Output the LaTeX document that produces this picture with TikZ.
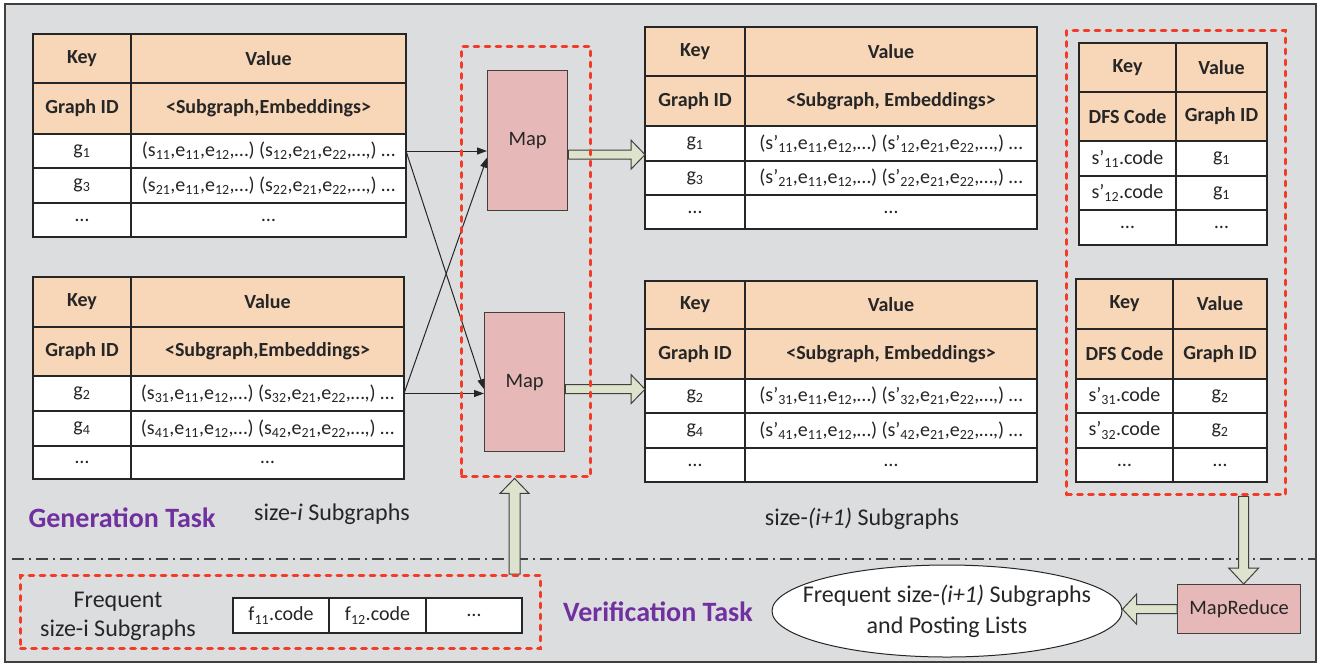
\documentclass[tikz,border=0pt]{standalone}
\usepackage{fontspec}
\setmainfont{Carlito}
\usetikzlibrary{arrows.meta,calc,shapes.geometric}

\definecolor{panel}{RGB}{220,221,223}
\definecolor{peach}{RGB}{248,214,184}
\definecolor{rose}{RGB}{230,184,183}
\definecolor{sage}{RGB}{221,227,204}
\definecolor{redline}{RGB}{242,60,40}
\definecolor{ink}{RGB}{38,38,38}
\definecolor{framegray}{RGB}{64,64,64}
\definecolor{taskpurple}{RGB}{112,48,160}

\pgfdeclarelayer{front}
\pgfsetlayers{main,front}

\newcommand\sub[1]{\textsubscript{#1}}

% one table cell: name, x0, y0, x1, y1, style, text
\newcommand\cell[7]{%
  \node[#6, anchor=north west, minimum width={(#4-#2)*1pt},
        minimum height={(#5-#3)*1pt}] (#1) at (#2,#3) {#7};}

\def\getcols#1/#2/#3\relax{\def\xa{#1}\def\xb{#2}\def\xc{#3}}
\def\getrows#1/#2/#3/#4/#5/#6\relax{%
  \def\ya{#1}\def\yb{#2}\def\yc{#3}\def\yd{#4}\def\ye{#5}\def\yf{#6}}

% key/value table: name, columns, rows, key type, value type,
% first key, first value, second key, second value
\newcommand\kvtab[9]{%
  \getcols#2\relax \getrows#3\relax
  \cell{#1-k0}{\xa}{\ya}{\xb}{\yb}{headcell}{Key}
  \cell{#1-v0}{\xb}{\ya}{\xc}{\yb}{headcell}{Value}
  \cell{#1-k1}{\xa}{\yb}{\xb}{\yc}{headcell}{#4}
  \cell{#1-v1}{\xb}{\yb}{\xc}{\yc}{headcell}{#5}
  \cell{#1-k2}{\xa}{\yc}{\xb}{\yd}{bodycell}{#6}
  \cell{#1-v2}{\xb}{\yc}{\xc}{\yd}{bodycell}{#7}
  \cell{#1-k3}{\xa}{\yd}{\xb}{\ye}{bodycell}{#8}
  \cell{#1-v3}{\xb}{\yd}{\xc}{\ye}{bodycell}{#9}
  \cell{#1-k4}{\xa}{\ye}{\xb}{\yf}{bodycell}{…}
  \cell{#1-v4}{\xb}{\ye}{\xc}{\yf}{bodycell}{…}}

% hollow block arrow: start, tip, shaft half-width, head half-width, head length
\newcommand\blockarrow[5]{%
  \coordinate (ba-base) at ($(#2)!#5!(#1)$);
  \draw[blockarrowstyle] ($(#1)!#3!90:(#2)$) -- ($(ba-base)!#3!90:(#2)$)
    -- ($(ba-base)!#4!90:(#2)$) -- (#2) -- ($(ba-base)!#4!-90:(#2)$)
    -- ($(ba-base)!#3!-90:(#2)$) -- ($(#1)!#3!-90:(#2)$) -- cycle;}

\tikzset{
  cellbase/.style={draw=ink, line width=1.3pt, inner sep=0pt, outer sep=0pt,
    text=ink},
  headcell/.style={cellbase, fill=peach, font=\fontsize{20}{24}\selectfont\bfseries},
  bodycell/.style={cellbase, fill=white, font=\fontsize{20}{24}\selectfont},
  mapbox/.style={draw=framegray, line width=1.3pt, fill=rose, text=ink,
    inner sep=0pt, anchor=north west, font=\fontsize{20.5}{24}\selectfont},
  reddash/.style={draw=redline, line width=3.4pt, line cap=round,
    dash pattern=on 4.5pt off 6.5pt, inner sep=0pt, anchor=north west},
  blockarrowstyle/.style={draw=framegray, line width=1pt, fill=sage,
    line join=miter},
  thinarrow/.style={draw=ink, line width=1pt,
    -{Triangle[length=10pt,width=7pt]}},
  label/.style={text=ink, font=\fontsize{24}{29}\selectfont, align=center},
  tasklabel/.style={text=taskpurple, font=\fontsize{28}{32}\selectfont\bfseries},
}

\begin{document}
\begin{tikzpicture}[x=1pt, y=-1pt]
\useasboundingbox (0,0) rectangle (1324,665);

% panel
\draw[fill=panel, draw=framegray, line width=1.5pt] (5,4) rectangle (1316,662);

% separator between generation and verification
\draw[framegray, line width=1.3pt, dash pattern=on 12pt off 5pt on 2pt off 5pt]
  (12,559) -- (1316,559);

% size-i tables
\kvtab{t1}{33/131/406}{34/83/134/168/203/237}{Graph ID}{<Subgraph,Embeddings>}
  {g\sub{1}}{(s\sub{11},e\sub{11},e\sub{12},…) (s\sub{12},e\sub{21},e\sub{22},…,) …}
  {g\sub{3}}{(s\sub{21},e\sub{11},e\sub{12},…) (s\sub{22},e\sub{21},e\sub{22},…,) …}
\kvtab{t2}{33/131/404}{277/327/376/411/446/479}{Graph ID}{<Subgraph,Embeddings>}
  {g\sub{2}}{(s\sub{31},e\sub{11},e\sub{12},…) (s\sub{32},e\sub{21},e\sub{22},…,) …}
  {g\sub{4}}{(s\sub{41},e\sub{11},e\sub{12},…) (s\sub{42},e\sub{21},e\sub{22},…,) …}

% size-(i+1) tables
\kvtab{t3}{645/745/1037}{27/76/126/161/195/229}{Graph ID}{<Subgraph, Embeddings>}
  {g\sub{1}}{(s’\sub{11},e\sub{11},e\sub{12},…) (s’\sub{12},e\sub{21},e\sub{22},…,) …}
  {g\sub{3}}{(s’\sub{21},e\sub{11},e\sub{12},…) (s’\sub{22},e\sub{21},e\sub{22},…,) …}
\kvtab{t4}{645/745/1037}{281/329/379/413/448/482}{Graph ID}{<Subgraph, Embeddings>}
  {g\sub{2}}{(s’\sub{31},e\sub{11},e\sub{12},…) (s’\sub{32},e\sub{21},e\sub{22},…,) …}
  {g\sub{4}}{(s’\sub{41},e\sub{11},e\sub{12},…) (s’\sub{42},e\sub{21},e\sub{22},…,) …}

% DFS code tables
\kvtab{t5}{1079/1176/1267}{43/92/141/176/210/245}{DFS Code}{Graph ID}
  {s’\sub{11}.code}{g\sub{1}}{s’\sub{12}.code}{g\sub{1}}
\kvtab{t6}{1076/1173/1267}{279/329/379/413/448/482}{DFS Code}{Graph ID}
  {s’\sub{31}.code}{g\sub{2}}{s’\sub{32}.code}{g\sub{2}}

% map tasks
\node[mapbox, minimum width=80pt, minimum height=140pt] (map1) at (487,70) {Map};
\node[mapbox, minimum width=80pt, minimum height=139pt] (map2) at (484,312) {Map};
\node[mapbox, minimum width=123pt, minimum height=49pt] (mapreduce) at (1177,584) {MapReduce};

% frequent size-i subgraph list
\cell{f1}{233}{598}{329}{633}{bodycell}{f\sub{11}.code}
\cell{f2}{329}{598}{426}{633}{bodycell}{f\sub{12}.code}
\cell{f3}{426}{598}{522}{633}{bodycell}{…}
\node[label] (freqlabel) at (118,616) {Frequent\\size-i Subgraphs};

% result of verification (negative inner sep keeps the ellipse at its minimum size)
\node[ellipse, draw=ink, fill=white, line width=1pt, minimum width=350pt,
  minimum height=92pt, inner xsep=-30pt, inner ysep=-10pt, align=center, text=ink,
  font=\fontsize{24}{31}\selectfont] (result) at (947,611)
  {Frequent size-\textit{(i+1)} Subgraphs\\and Posting Lists};

% captions
\node[tasklabel] (gentask) at (122,518) {Generation Task};
\node[tasklabel] (vertask) at (658,612) {Verification Task};
\node[label] (sizei) at (332,514) {size-\textit{i} Subgraphs};
\node[label] (sizeii) at (862,519) {size-\textit{(i+1)} Subgraphs};

% dashed groups (node names used by the arrows below)
\begin{pgfonlayer}{front}
\node[reddash, minimum width=129pt, minimum height=430pt] (mapgroup) at (460,45) {};
\node[reddash, minimum width=219pt, minimum height=464pt] (dfsgroup) at (1065,29) {};
\node[reddash, minimum width=520pt, minimum height=73pt] (freqgroup) at (19,574) {};
\end{pgfonlayer}

% records sent to the map tasks
\draw[thinarrow] (t1-v2.east) -- (t1-v2.east -| map1.west);
\draw[thinarrow] (t1-v2.east) -- ($(map2.north west)!0.55!(map2.south west)$);
\draw[thinarrow] (t2-v2.east) -- (t2-v2.east -| map2.west);
\draw[thinarrow] (t2-v2.east) -- ($(map1.north west)!0.62!(map1.south west)$);

% map outputs
\coordinate (a1s) at ($(map1.east)+(0,14)$);
\coordinate (a1e) at (a1s -| t3-k0.west);
\blockarrow{a1s}{a1e}{4.5pt}{14.5pt}{14pt}
\coordinate (a2s) at ($(map2.east)+(0,7)$);
\coordinate (a2e) at (a2s -| t4-k0.west);
\blockarrow{a2s}{a2e}{4.5pt}{14.5pt}{14pt}

% frequent subgraphs feed the next generation
\coordinate (us) at ($(freqgroup.north west)+(495.5,0)$);
\coordinate (ue) at (us |- mapgroup.south);
\blockarrow{us}{ue}{5.5pt}{14.5pt}{15pt}

% DFS codes go to MapReduce, results to the posting lists
\coordinate (de) at ($(mapreduce.north)+(4.5,0)$);
\coordinate (ds) at (de |- dfsgroup.south);
\blockarrow{ds}{de}{5pt}{15pt}{16pt}
\coordinate (le) at (mapreduce.west -| result.east);
\blockarrow{mapreduce.west}{le}{4.5pt}{15pt}{14pt}
\end{tikzpicture}
\end{document}
